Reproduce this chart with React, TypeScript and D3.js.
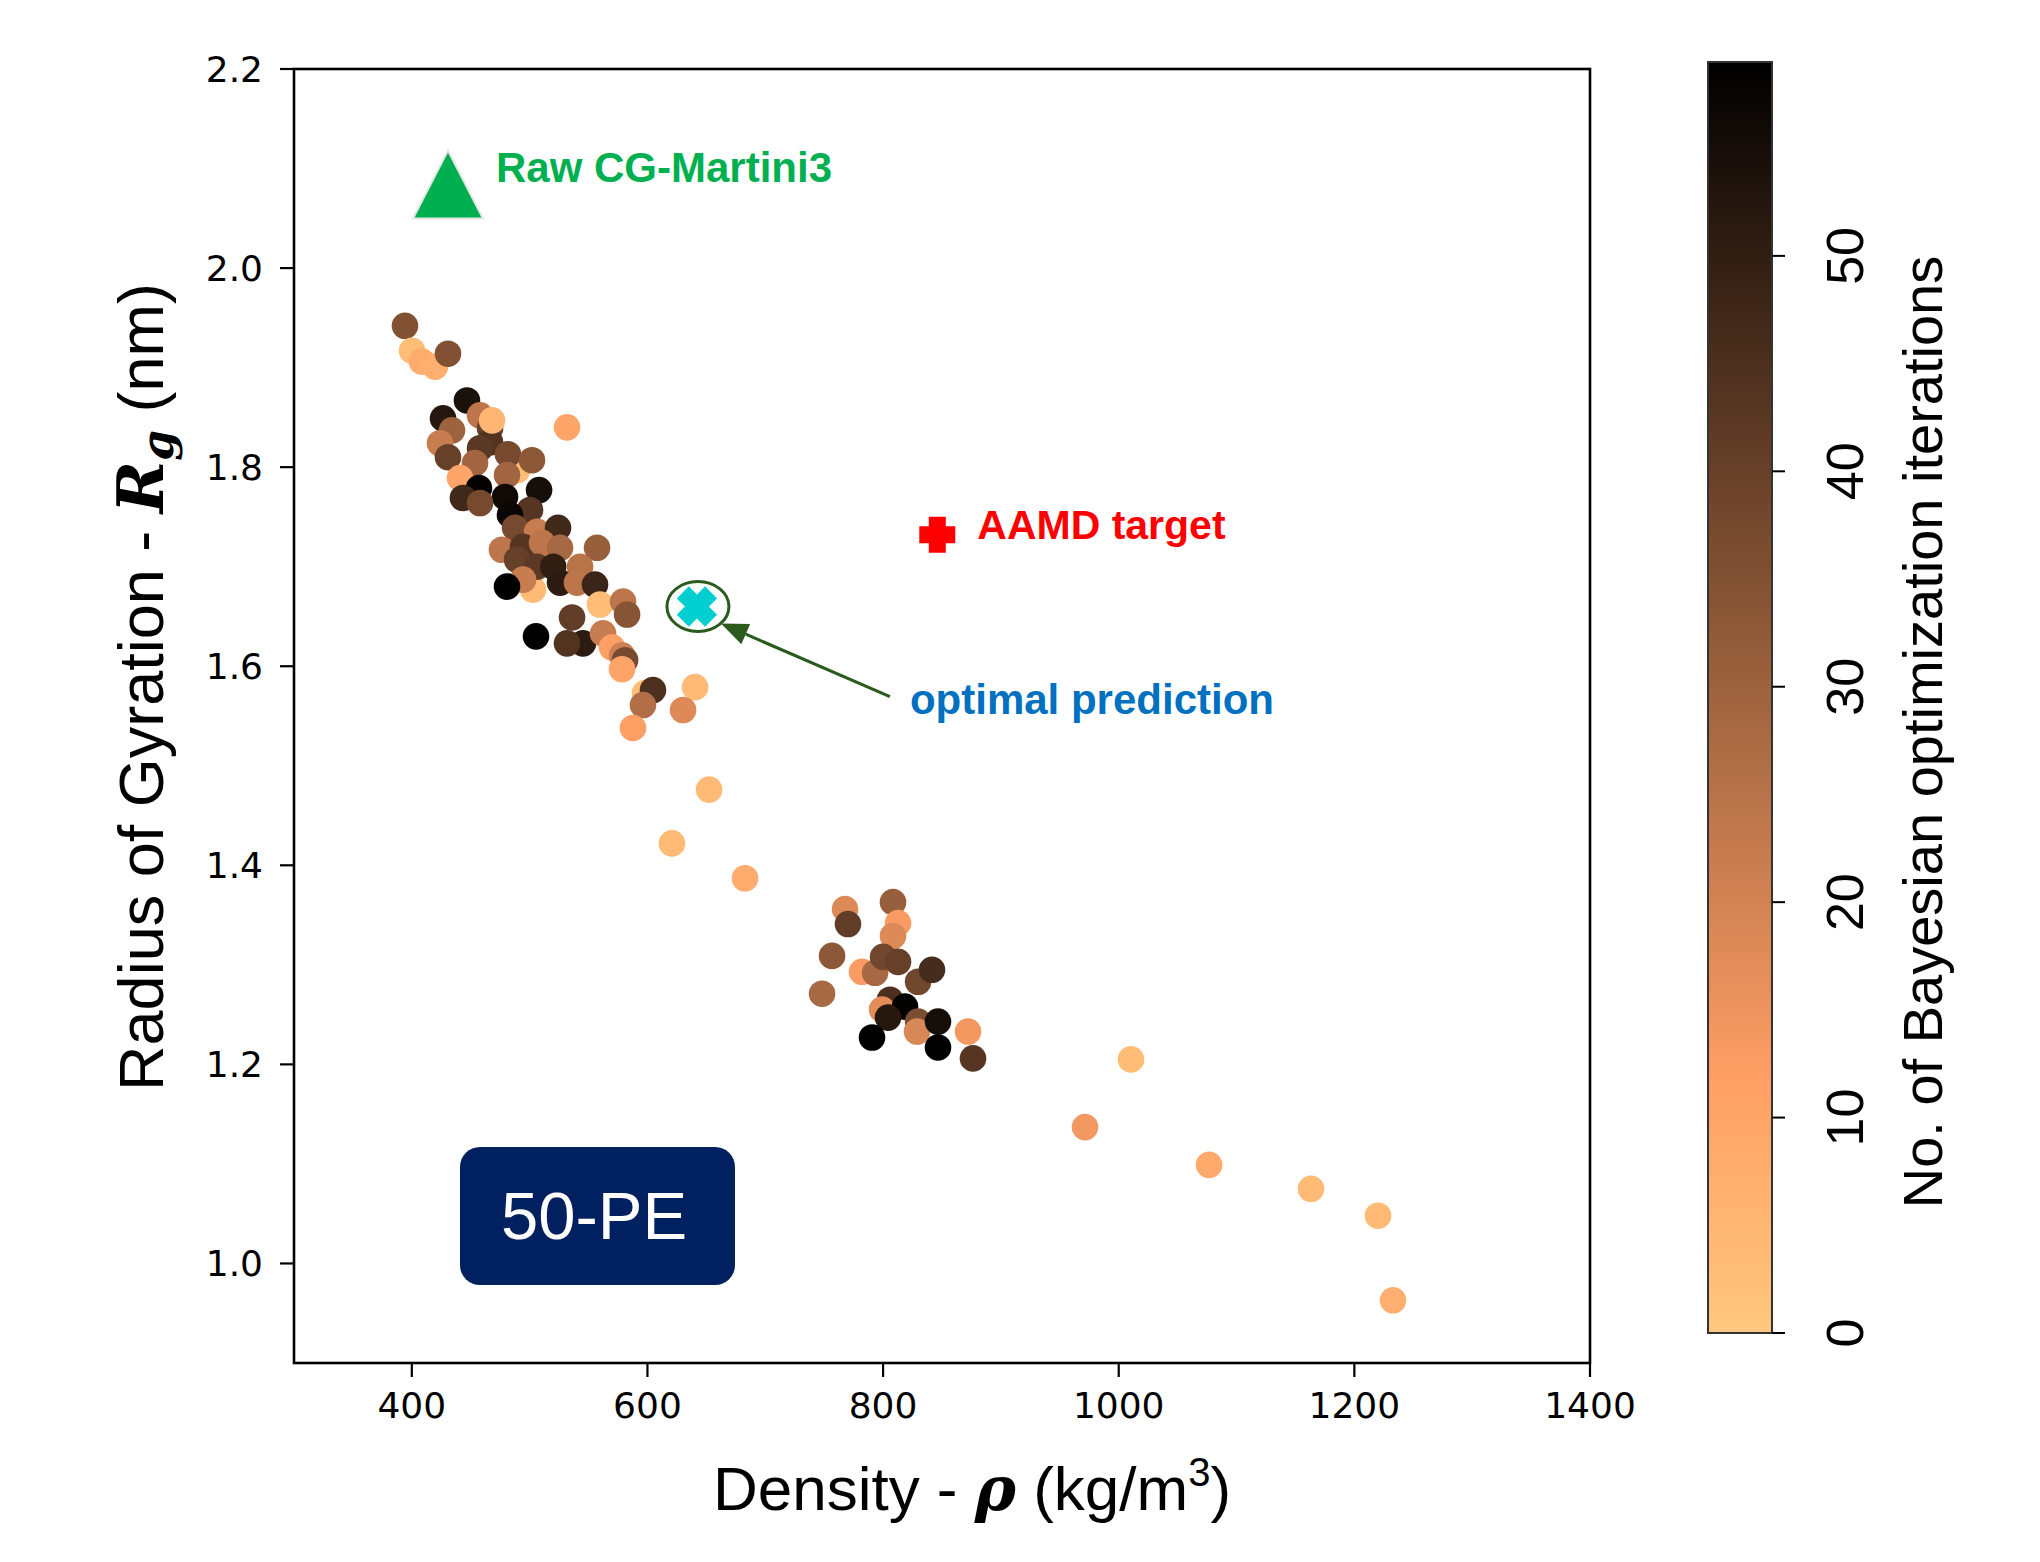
import React from "react";
import * as d3 from "d3";

const width = 2040;
const height = 1562;

// plot area (pixels)
const marginLeft = 294;
const marginRight = 450;
const marginTop = 69;
const marginBottom = 199;

// samples: density (kg/m3), radius of gyration (nm), BO iteration
const density = [
  489.3, 502.9,
  394.2, 400.2, 408.6, 419.7, 430.7, 446.8, 426.5, 457.9, 531.7, 434.1,
  423.9, 466.4, 466.4, 457.9, 430.7, 481.6, 502.0, 453.6, 480.8,
  440.9, 468.1, 457.0, 479.1, 508.0, 500.3, 483.3, 443.4, 457.9, 487.6,
  506.3, 524.1, 476.5, 494.4, 510.5, 525.8, 557.2, 489.3, 506.3, 520.0,
  542.8, 525.8, 540.2, 555.5, 494.4, 480.8, 559.7, 579.3, 582.7,
  536.0, 505.4, 545.3, 531.7, 562.3, 569.9, 578.4, 581.0, 578.4, 597.9,
  604.7, 596.2, 640.4, 630.2, 587.7, 652.3, 620.8, 682.8,
  767.7, 770.2, 808.4, 812.7, 808.4, 756.7, 782.1, 793.2, 800.0, 812.7,
  829.7, 841.5, 748.2, 805.9, 799.1, 818.6, 804.2, 829.7, 828.8, 846.6,
  790.6, 846.6, 872.1, 876.3,
  1010.4, 971.4, 1076.7, 1163.2, 1220.1, 1232.8,
];

const rg = [
  1.797, 1.677,
  1.942, 1.917, 1.906, 1.901, 1.914, 1.867, 1.849, 1.852, 1.840, 1.837,
  1.824, 1.839, 1.825, 1.819, 1.810, 1.813, 1.807, 1.804, 1.792,
  1.789, 1.847, 1.779, 1.770, 1.777, 1.757, 1.752, 1.769, 1.764, 1.739,
  1.735, 1.739, 1.717, 1.720, 1.724, 1.719, 1.719, 1.707, 1.700, 1.700,
  1.700, 1.684, 1.684, 1.682, 1.687, 1.680, 1.662, 1.665, 1.652,
  1.649, 1.630, 1.623, 1.623, 1.633, 1.619, 1.611, 1.606, 1.597, 1.573,
  1.576, 1.561, 1.579, 1.556, 1.538, 1.476, 1.422, 1.387,
  1.356, 1.341, 1.363, 1.342, 1.329, 1.309, 1.293, 1.292, 1.308, 1.303,
  1.283, 1.295, 1.271, 1.265, 1.255, 1.258, 1.247, 1.243, 1.233, 1.243,
  1.227, 1.217, 1.233, 1.206,
  1.205, 1.137, 1.099, 1.075, 1.048, 0.963,
];

const iteration = [
  3, 4,
  35, 3, 8, 7, 35, 54, 52, 24, 10, 30,
  22, 40, 44, 42, 40, 37, 33, 29, 29,
  10, 5, 58, 56, 55, 43, 57, 47, 37, 37,
  22, 47, 24, 43, 24, 28, 31, 40, 42, 50,
  25, 51, 24, 48, 22, 59, 3, 24, 34,
  41, 59, 51, 44, 22, 12, 21, 37, 10, 3,
  45, 26, 4, 18, 12, 4, 4, 8,
  18, 41, 31, 13, 18, 33, 13, 28, 38, 40,
  38, 46, 28, 45, 17, 58, 52, 36, 19, 55,
  59, 59, 14, 43,
  3, 14, 9, 4, 4, 7,
];

const rawCG = { density: 430.7, rg: 2.084 };
const aamdTarget = { density: 846, rg: 1.732 };
const optimal = { density: 642, rg: 1.66 };

const xTicks = [400, 600, 800, 1000, 1200, 1400];
const yTicks = [1.0, 1.2, 1.4, 1.6, 1.8, 2.0, 2.2];
const cbarTicks = [0, 10, 20, 30, 40, 50];
const iterMax = 59;

// matplotlib "copper", reversed
const copper = (t: number) =>
  d3.rgb(255 * Math.min(1, 1.25 * t), 255 * 0.7812 * t, 255 * 0.4975 * t).formatHex();
const iterColor = (it: number) => copper(1 - it / iterMax);

const x = d3.scaleLinear().domain([300, 1400]).range([marginLeft, width - marginRight]);
const y = d3.scaleLinear().domain([0.9, 2.2]).range([height - marginBottom, marginTop]);

// colorbar geometry
const cbLeft = 1708;
const cbRight = 1772;
const cbY = d3.scaleLinear().domain([0, iterMax]).range([1333, 62]);

const plusPath = (h: number, a: number) =>
  `M${-a},${-h}H${a}V${-a}H${h}V${a}H${a}V${h}H${-a}V${a}H${-h}V${-a}H${-a}Z`;

const tickFont = "DejaVu Sans, sans-serif";
const labelFont = "Liberation Sans, Arial, sans-serif";
const mathFont = "DejaVu Serif, serif";

export default function App() {
  const points = density.map((d, i) => ({ d, r: rg[i], it: iteration[i] }));
  const plotBottom = height - marginBottom;
  const plotRight = width - marginRight;

  const ox = x(optimal.density);
  const oy = y(optimal.rg);
  // arrow from label to ellipse
  const tip = [ox + 24, oy + 17];
  const tail = [ox + 193, oy + 90];
  const ang = Math.atan2(tip[1] - tail[1], tip[0] - tail[0]);
  const headLen = 27;
  const headHalf = 11;
  const base = [tip[0] - headLen * Math.cos(ang), tip[1] - headLen * Math.sin(ang)];
  const head = [
    tip,
    [base[0] + headHalf * Math.sin(ang), base[1] - headHalf * Math.cos(ang)],
    [base[0] - headHalf * Math.sin(ang), base[1] + headHalf * Math.cos(ang)],
  ];

  const rx = x(rawCG.density);
  const ry = y(rawCG.rg);
  const ax = x(aamdTarget.density);
  const ay = y(aamdTarget.rg);

  const gradStops = d3.range(0, 1.0001, 0.05);

  return (
    <svg
      width={width}
      height={height}
      style={{ position: "absolute", left: 0, top: 0, background: "#fff" }}
    >
      <defs>
        <linearGradient id="cbar" x1="0" y1="1" x2="0" y2="0">
          {gradStops.map((s) => (
            <stop key={s} offset={s} stopColor={iterColor(s * iterMax)} />
          ))}
        </linearGradient>
      </defs>
      <rect width={width} height={height} fill="#fff" />

      {/* scatter of BO samples */}
      <g>
        {points.map((p, i) => (
          <circle
            key={i}
            cx={x(p.d)}
            cy={y(p.r)}
            r={13.3}
            fill={iterColor(p.it)}
          />
        ))}
      </g>

      {/* raw CG-Martini3 */}
      <path
        d={`M${rx},${ry - 34}L${rx + 35},${ry + 34}L${rx - 35},${ry + 34}Z`}
        fill="#00B050"
        stroke="#e6e6e6"
        strokeWidth={2}
      />
      <text
        x={rx + 48}
        y={ry - 2}
        fontFamily={labelFont}
        fontWeight="bold"
        fontSize={42}
        fill="#00B050"
      >
        Raw CG-Martini3
      </text>

      {/* AAMD target */}
      <path d={plusPath(18, 8.5)} transform={`translate(${ax},${ay})`} fill="#FF0000" />
      <text
        x={ax + 40}
        y={ay + 4}
        fontFamily={labelFont}
        fontWeight="bold"
        fontSize={41}
        fill="#FF0000"
      >
        AAMD target
      </text>

      {/* optimal prediction */}
      <path
        d={plusPath(20, 8.5)}
        transform={`translate(${ox},${oy}) rotate(45)`}
        fill="#00CED1"
      />
      <ellipse cx={ox + 1} cy={oy} rx={31} ry={25} fill="none" stroke="#2A5A1C" strokeWidth={3} />
      <line
        x1={tail[0]}
        y1={tail[1]}
        x2={base[0]}
        y2={base[1]}
        stroke="#2A5A1C"
        strokeWidth={3}
      />
      <path d={`M${head.map((p) => p.join(",")).join("L")}Z`} fill="#2A5A1C" />
      <text
        x={ox + 213}
        y={oy + 107}
        fontFamily={labelFont}
        fontWeight="bold"
        fontSize={42}
        fill="#0070C0"
      >
        optimal prediction
      </text>

      {/* system tag */}
      <rect
        x={marginLeft + 166}
        y={plotBottom - 216}
        width={275}
        height={138}
        rx={20}
        fill="#002060"
      />
      <text
        x={marginLeft + 166 + 134}
        y={plotBottom - 216 + 92}
        textAnchor="middle"
        fontFamily={labelFont}
        fontSize={67}
        fill="#fff"
      >
        50-PE
      </text>

      {/* frame */}
      <rect
        x={marginLeft}
        y={marginTop}
        width={plotRight - marginLeft}
        height={plotBottom - marginTop}
        fill="none"
        stroke="#000"
        strokeWidth={2.6}
      />

      {/* x axis */}
      <g>
        {xTicks.map((t) => (
          <g key={t}>
            <line x1={x(t)} x2={x(t)} y1={plotBottom} y2={plotBottom + 14} stroke="#000" strokeWidth={2.2} />
            <text
              x={x(t)}
              y={plotBottom + 55}
              textAnchor="middle"
              fontFamily={tickFont}
              fontSize={36}
              fill="#000"
            >
              {t}
            </text>
          </g>
        ))}
      </g>

      {/* y axis */}
      <g>
        {yTicks.map((t) => (
          <g key={t}>
            <line x1={marginLeft - 14} x2={marginLeft} y1={y(t)} y2={y(t)} stroke="#000" strokeWidth={2.2} />
            <text
              x={marginLeft - 31}
              y={y(t) + 13}
              textAnchor="end"
              fontFamily={tickFont}
              fontSize={36}
              fill="#000"
            >
              {t.toFixed(1)}
            </text>
          </g>
        ))}
      </g>

      {/* axis titles */}
      <text
        x={972}
        y={1510}
        textAnchor="middle"
        fontFamily={labelFont}
        fontSize={62}
        fill="#000"
      >
        Density -{" "}
        <tspan fontFamily={mathFont} fontWeight="bold" fontStyle="italic">
          ρ
        </tspan>{" "}
        (kg/m
        <tspan fontSize={40} dy={-24}>
          3
        </tspan>
        <tspan dy={24}>)</tspan>
      </text>
      <text
        transform={`translate(163,687) rotate(-90)`}
        textAnchor="middle"
        fontFamily={labelFont}
        fontSize={63}
        fill="#000"
      >
        Radius of Gyration -{" "}
        <tspan fontFamily={mathFont} fontWeight="bold" fontStyle="italic">
          R
        </tspan>
        <tspan fontFamily={mathFont} fontWeight="bold" fontStyle="italic" fontSize={44} dy={10}>
          g
        </tspan>
        <tspan dy={-10}> (nm)</tspan>
      </text>

      {/* colorbar */}
      <rect
        x={cbLeft}
        y={cbY(iterMax)}
        width={cbRight - cbLeft}
        height={cbY(0) - cbY(iterMax)}
        fill="url(#cbar)"
        stroke="#333"
        strokeWidth={2}
      />
      {cbarTicks.map((t) => (
        <g key={t}>
          <line x1={cbRight} x2={cbRight + 13} y1={cbY(t)} y2={cbY(t)} stroke="#000" strokeWidth={2} />
          <text
            transform={`translate(${cbRight + 91},${cbY(t)}) rotate(-90)`}
            textAnchor="middle"
            fontFamily={labelFont}
            fontSize={52}
            fill="#000"
          >
            {t}
          </text>
        </g>
      ))}
      <text
        transform={`translate(1942,732) rotate(-90)`}
        textAnchor="middle"
        fontFamily={labelFont}
        fontSize={56}
        fill="#000"
      >
        No. of Bayesian optimization iterations
      </text>
    </svg>
  );
}
